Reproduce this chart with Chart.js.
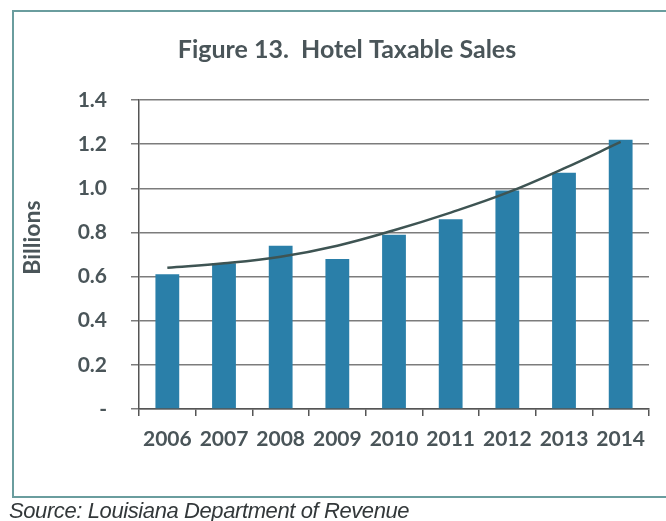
<!DOCTYPE html>
<html>
<head>
<meta charset="utf-8">
<script src="https://cdn.jsdelivr.net/npm/chart.js@4.4.1/dist/chart.umd.min.js"></script>
<style>
  html, body { margin: 0; padding: 0; background: #ffffff; }
  body { width: 666px; height: 521px; position: relative; overflow: hidden; }
  #frame {
    position: absolute; left: 12px; top: 10px; width: 670px; height: 488px;
    border: 2px solid #6a9d9e; box-sizing: border-box; background: #ffffff;
  }
  #chart { position: absolute; left: 0; top: 0; }
  #source {
    position: absolute; left: 9px; top: 498px;
    font-family: "Liberation Sans", Arial, sans-serif; font-style: italic;
    font-size: 22px; letter-spacing: -0.4px; color: #33383a; white-space: nowrap;
  }
</style>
</head>
<body>
<div id="frame"></div>
<canvas id="chart" width="666" height="521"></canvas>
<div id="source">Source: Louisiana Department of Revenue</div>
<script>
// Hotel taxable sales by year, billions of dollars
const years = ['2006', '2007', '2008', '2009', '2010', '2011', '2012', '2013', '2014'];
const sales = [0.61, 0.66, 0.74, 0.68, 0.79, 0.86, 0.99, 1.07, 1.22];
// Fitted trend curve, read at each year
const trend = [0.64, 0.66, 0.69, 0.74, 0.81, 0.89, 0.98, 1.09, 1.21];
// Y axis tick values and their printed labels (zero shown as a dash)
const yTickValues = [0, 0.2, 0.4, 0.6, 0.8, 1.0, 1.2, 1.4];
const yTickLabels = ['-', '0.2', '0.4', '0.6', '0.8', '1.0', '1.2', '1.4'];
const chartTitle = 'Figure 13.  Hotel Taxable Sales';
const yAxisTitle = 'Billions';

const fontFamily = 'Lato, "Open Sans", sans-serif';
const textColor = '#4a5559';

// Heading centred over the framed panel, and the vertical axis caption
const captions = {
  id: 'captions',
  afterDraw(chart) {
    const { ctx, chartArea } = chart;
    ctx.save();
    ctx.fillStyle = textColor;
    ctx.textAlign = 'center';
    ctx.textBaseline = 'middle';
    ctx.font = `bold 25px ${fontFamily}`;
    ctx.fillText(chartTitle, 347, 50);
    ctx.translate(33, chartArea.top + chartArea.height * 0.445);
    ctx.rotate(-Math.PI / 2);
    ctx.font = `bold 23px ${fontFamily}`;
    ctx.fillText(yAxisTitle, 0, 0);
    ctx.restore();
  }
};

new Chart(document.getElementById('chart'), {
  data: {
    labels: years,
    datasets: [
      {
        type: 'line',
        data: trend,
        borderColor: '#3e5453',
        borderWidth: 2.5,
        pointRadius: 0,
        tension: 0.4,
        order: 0
      },
      {
        type: 'bar',
        data: sales,
        backgroundColor: '#2a7fa9',
        barPercentage: 0.42,
        categoryPercentage: 1,
        order: 1
      }
    ]
  },
  plugins: [captions],
  options: {
    responsive: false,
    animation: false,
    layout: { padding: { top: 100, right: 17, bottom: 52, left: 14 } },
    plugins: {
      legend: { display: false },
      tooltip: { enabled: false },
      title: { display: false }
    },
    scales: {
      x: {
        offset: true,
        grid: {
          offset: true,
          drawOnChartArea: false,
          drawTicks: true,
          tickLength: 7,
          color: '#555555',
          lineWidth: 1.5
        },
        border: { color: '#555555', width: 1.5 },
        ticks: { color: textColor, font: { family: fontFamily, size: 21, weight: 'bold' }, padding: 11, maxRotation: 0 },
        afterFit: (scale) => { scale.height = 60; }
      },
      y: {
        min: 0,
        max: 1.4,
        afterBuildTicks: (scale) => { scale.ticks = yTickValues.map(v => ({ value: v })); },
        grid: { color: '#7c7c7c', lineWidth: 1.5, tickLength: 8 },
        border: { color: '#555555', width: 1.5 },
        ticks: {
          color: textColor,
          font: { family: fontFamily, size: 21, weight: 'bold' },
          padding: 24,
          callback: (value) => {
            const i = yTickValues.findIndex(v => Math.abs(v - value) < 1e-6);
            return i >= 0 ? yTickLabels[i] : '';
          }
        },
        afterFit: (scale) => { scale.width = 125; }
      }
    }
  }
});
</script>
</body>
</html>
